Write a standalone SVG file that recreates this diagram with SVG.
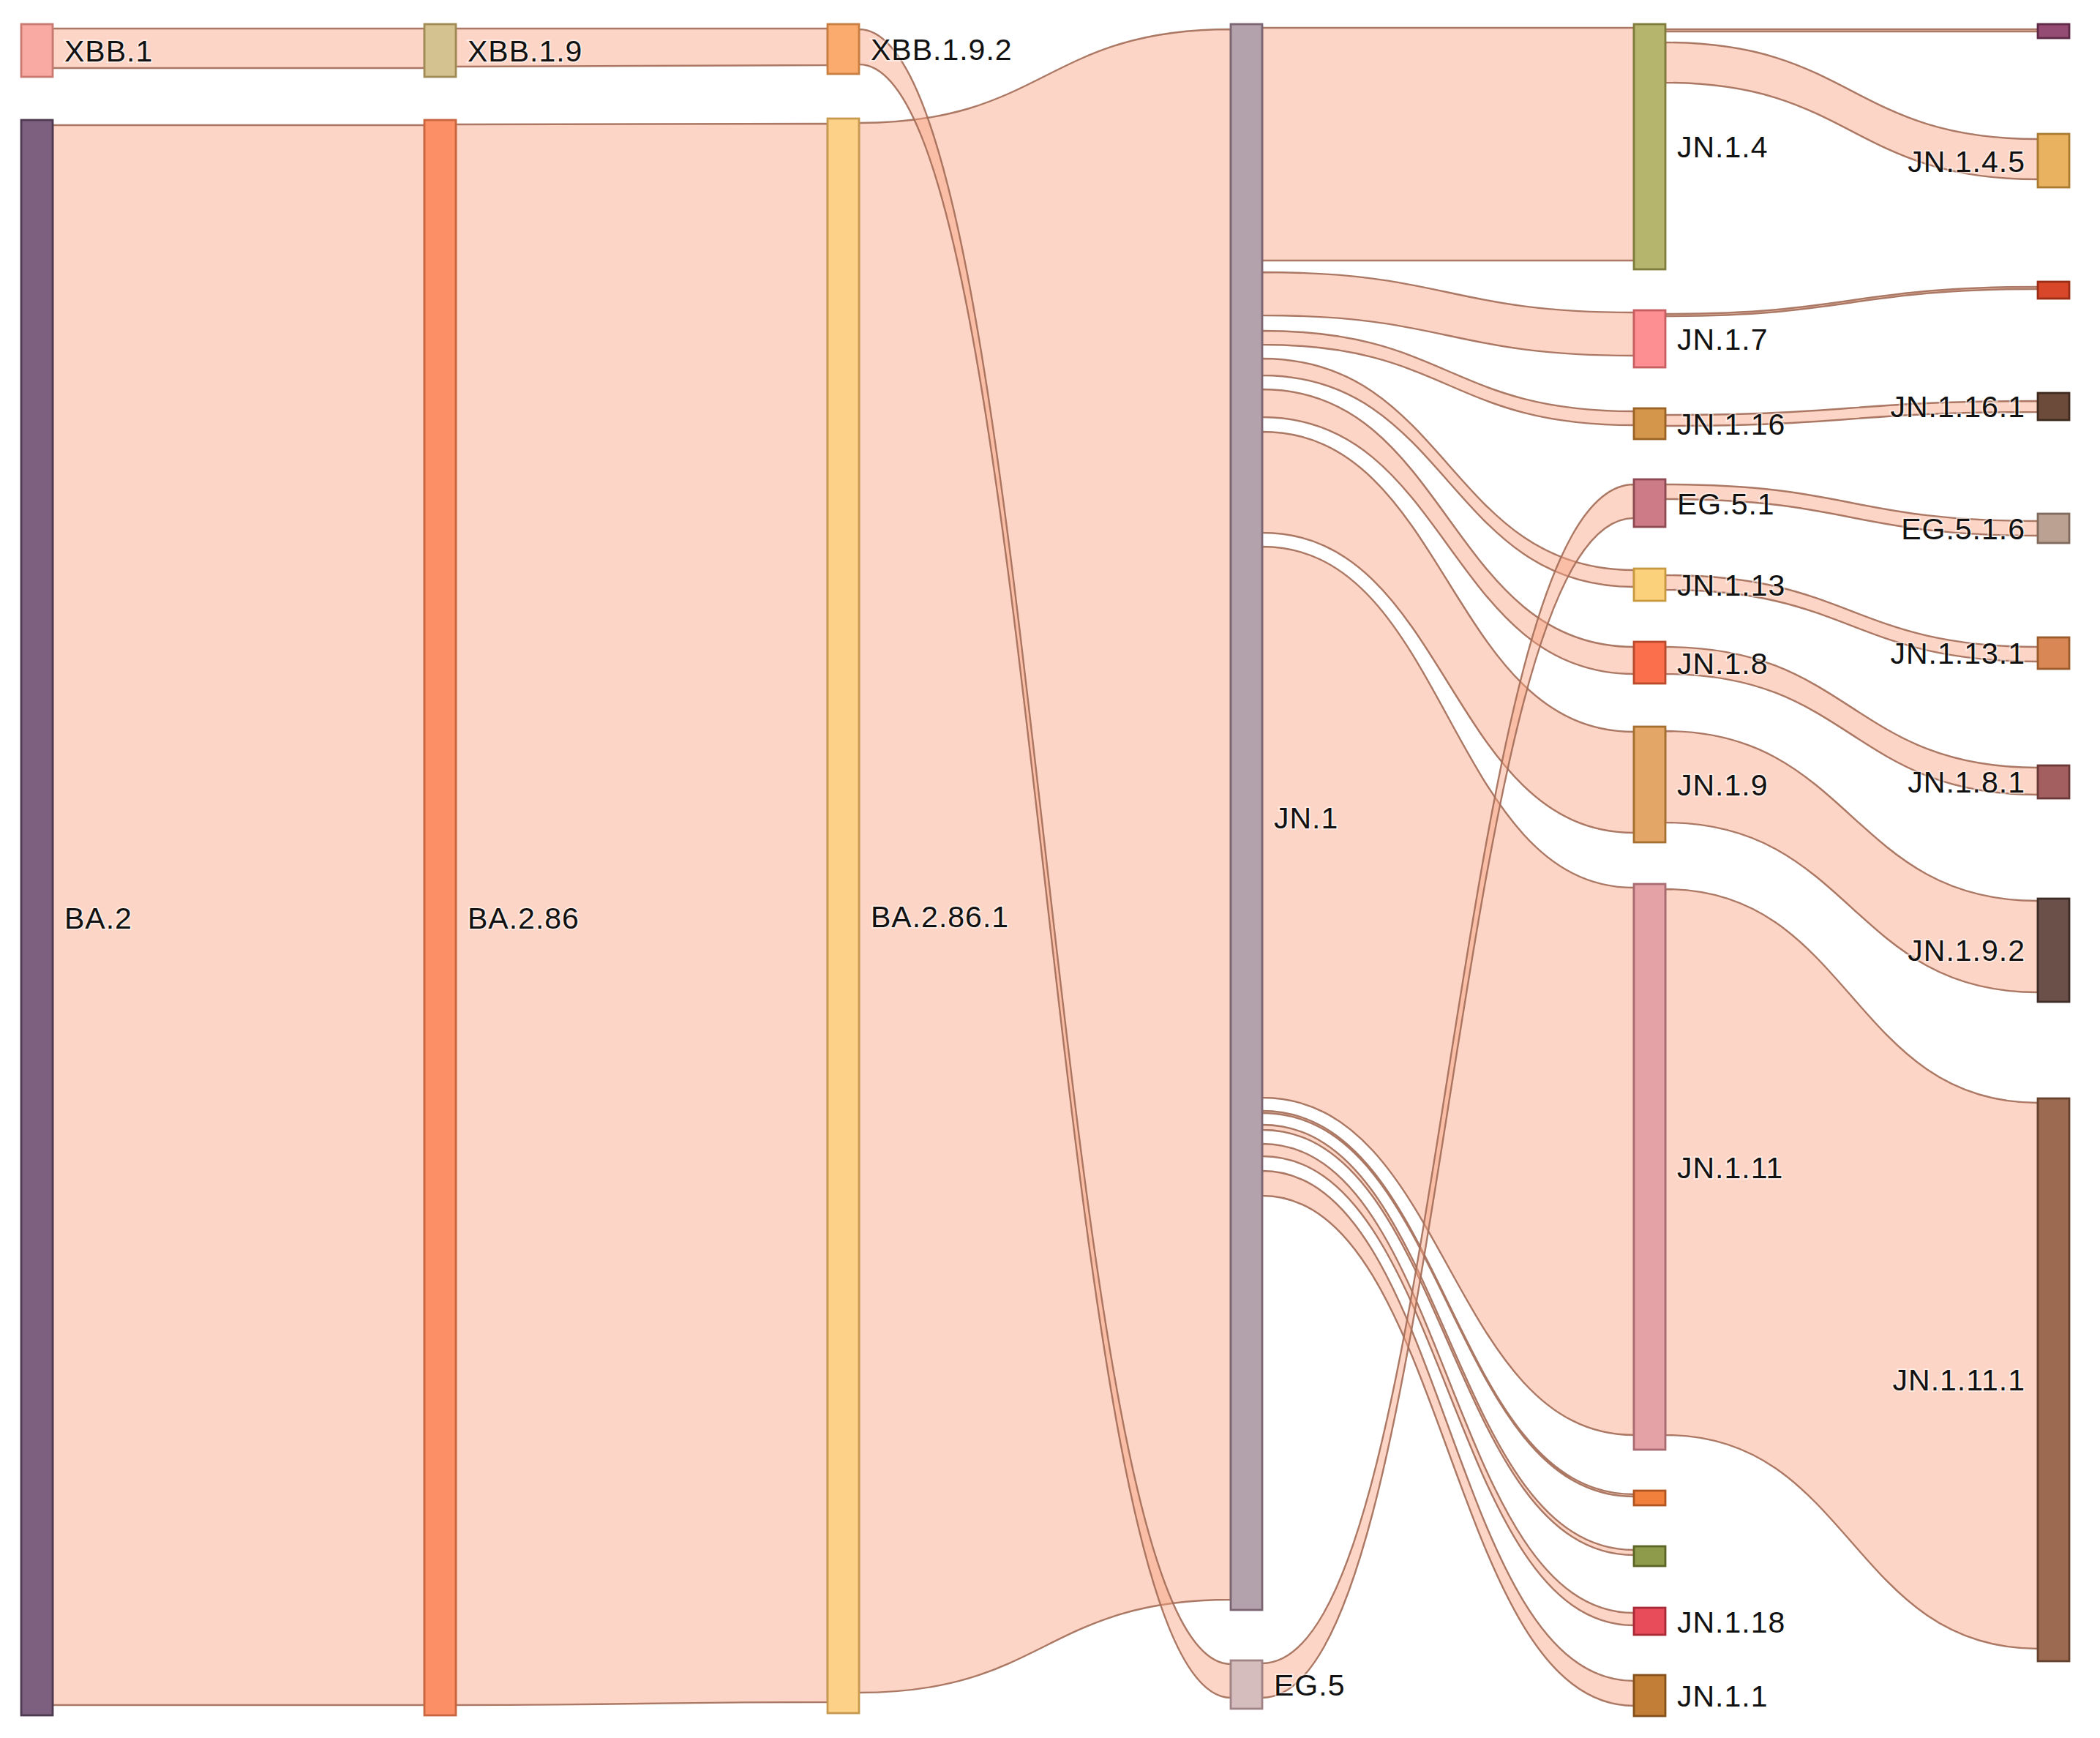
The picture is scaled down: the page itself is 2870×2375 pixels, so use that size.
<svg xmlns="http://www.w3.org/2000/svg" width="2870" height="2375" viewBox="0 0 2870 2375">
<style>
.bg{fill:#ffffff}
.lk{fill:#f9a383;fill-opacity:0.46;stroke:#a26c57;stroke-opacity:0.9;stroke-width:2.4}
.nd{stroke-width:2.8}
.lbl{font-family:"Liberation Sans",Arial,Helvetica,sans-serif;font-size:41px;letter-spacing:1px;fill:#111111;paint-order:stroke;stroke:#ffffff;stroke-width:4;stroke-opacity:0.5}
.r{text-anchor:end}
</style>
<rect class="bg" x="0" y="0" width="2870" height="2375"/>
<g id="links">
<path class="lk" d="M72,39 C326,39 326,39 580,39 L580,93 C326,93 326,93 72,93 Z"/>
<path class="lk" d="M623,39 C877,39 877,39 1131,39 L1131,89 C877,89 877,91 623,91 Z"/>
<path class="lk" d="M72,171 C326,171 326,171 580,171 L580,2330 C326,2330 326,2330 72,2330 Z"/>
<path class="lk" d="M623,170 C877,170 877,169 1131,169 L1131,2326 C877,2326 877,2330 623,2330 Z"/>
<path class="lk" d="M1174,168 C1428,168 1428,40 1682,40 L1682,2186 C1428,2186 1428,2313 1174,2313 Z"/>
<path class="lk" d="M1174,40 C1428,40 1428,2274 1682,2274 L1682,2320 C1428,2320 1428,88 1174,88 Z"/>
<path class="lk" d="M1725,38 C1979,38 1979,38 2233,38 L2233,356 C1979,356 1979,356 1725,356 Z"/>
<path class="lk" d="M1725,372 C1979,372 1979,427 2233,427 L2233,486 C1979,486 1979,431 1725,431 Z"/>
<path class="lk" d="M1725,452 C1979,452 1979,562 2233,562 L2233,581 C1979,581 1979,471 1725,471 Z"/>
<path class="lk" d="M1725,490 C1979,490 1979,779 2233,779 L2233,802 C1979,802 1979,513 1725,513 Z"/>
<path class="lk" d="M1725,532 C1979,532 1979,884 2233,884 L2233,921 C1979,921 1979,570 1725,570 Z"/>
<path class="lk" d="M1725,590 C1979,590 1979,1000 2233,1000 L2233,1138 C1979,1138 1979,728 1725,728 Z"/>
<path class="lk" d="M1725,747 C1979,747 1979,1213 2233,1213 L2233,1961 C1979,1961 1979,1500 1725,1500 Z"/>
<path class="lk" d="M1725,1518 C1979,1518 1979,2042 2233,2042 L2233,2045 C1979,2045 1979,1521 1725,1521 Z"/>
<path class="lk" d="M1725,1537 C1979,1537 1979,2118 2233,2118 L2233,2125 C1979,2125 1979,1544 1725,1544 Z"/>
<path class="lk" d="M1725,1563 C1979,1563 1979,2204 2233,2204 L2233,2221 C1979,2221 1979,1580 1725,1580 Z"/>
<path class="lk" d="M1725,1600 C1979,1600 1979,2297 2233,2297 L2233,2331 C1979,2331 1979,1634 1725,1634 Z"/>
<path class="lk" d="M1725,2273 C1979,2273 1979,662 2233,662 L2233,708 C1979,708 1979,2320 1725,2320 Z"/>
<path class="lk" d="M2276,40 C2530,40 2530,40 2785,40 L2785,43 C2530,43 2530,43 2276,43 Z"/>
<path class="lk" d="M2276,58 C2530,58 2530,190 2785,190 L2785,245 C2530,245 2530,113 2276,113 Z"/>
<path class="lk" d="M2276,429 C2530,429 2530,392 2785,392 L2785,395 C2530,395 2530,432 2276,432 Z"/>
<path class="lk" d="M2276,567 C2530,567 2530,548 2785,548 L2785,563 C2530,563 2530,582 2276,582 Z"/>
<path class="lk" d="M2276,662 C2530,662 2530,712 2785,712 L2785,732 C2530,732 2530,682 2276,682 Z"/>
<path class="lk" d="M2276,786 C2530,786 2530,884 2785,884 L2785,904 C2530,904 2530,806 2276,806 Z"/>
<path class="lk" d="M2276,884 C2530,884 2530,1049 2785,1049 L2785,1086 C2530,1086 2530,921 2276,921 Z"/>
<path class="lk" d="M2276,999 C2530,999 2530,1231 2785,1231 L2785,1356 C2530,1356 2530,1124 2276,1124 Z"/>
<path class="lk" d="M2276,1215 C2530,1215 2530,1507 2785,1507 L2785,2253 C2530,2253 2530,1961 2276,1961 Z"/>
</g>
<g id="n-xbb1"><rect class="nd" x="29" y="33" width="43" height="72" fill="#f9aaa2" stroke="#c97b72"/><text class="lbl" x="88" y="84">XBB.1</text></g>
<g id="n-ba2"><rect class="nd" x="29" y="164" width="43" height="2180" fill="#7d6080" stroke="#4d3a50"/><text class="lbl" x="88" y="1269">BA.2</text></g>
<g id="n-xbb19"><rect class="nd" x="580" y="33" width="43" height="72" fill="#d4c290" stroke="#a08a55"/><text class="lbl" x="639" y="84">XBB.1.9</text></g>
<g id="n-ba286"><rect class="nd" x="580" y="164" width="43" height="2180" fill="#fd8f66" stroke="#c9653f"/><text class="lbl" x="639" y="1269">BA.2.86</text></g>
<g id="n-xbb192"><rect class="nd" x="1131" y="33" width="43" height="68" fill="#fbab6e" stroke="#c77e40"/><text class="lbl" x="1190" y="82">XBB.1.9.2</text></g>
<g id="n-ba2861"><rect class="nd" x="1131" y="162" width="43" height="2179" fill="#fdd288" stroke="#c79a4f"/><text class="lbl" x="1190" y="1267">BA.2.86.1</text></g>
<g id="n-jn1"><rect class="nd" x="1682" y="33" width="43" height="2167" fill="#b3a1ac" stroke="#7b6572"/><text class="lbl" x="1741" y="1132">JN.1</text></g>
<g id="n-eg5"><rect class="nd" x="1682" y="2269" width="43" height="66" fill="#d5bcbd" stroke="#a08485"/><text class="lbl" x="1741" y="2317">EG.5</text></g>
<g id="n-jn14"><rect class="nd" x="2233" y="33" width="43" height="335" fill="#b5b56d" stroke="#807c3c"/><text class="lbl" x="2292" y="215">JN.1.4</text></g>
<g id="n-jn17"><rect class="nd" x="2233" y="424" width="43" height="78" fill="#fd8e92" stroke="#c75e62"/><text class="lbl" x="2292" y="478">JN.1.7</text></g>
<g id="n-jn116"><rect class="nd" x="2233" y="558" width="43" height="42" fill="#d4964b" stroke="#9a6225"/><text class="lbl" x="2292" y="594">JN.1.16</text></g>
<g id="n-eg51"><rect class="nd" x="2233" y="655" width="43" height="65" fill="#cd7b87" stroke="#8e4a53"/><text class="lbl" x="2292" y="703">EG.5.1</text></g>
<g id="n-jn113"><rect class="nd" x="2233" y="777" width="43" height="44" fill="#fcd17c" stroke="#c79a3f"/><text class="lbl" x="2292" y="814">JN.1.13</text></g>
<g id="n-jn18"><rect class="nd" x="2233" y="877" width="43" height="57" fill="#fb6f4d" stroke="#b94a2c"/><text class="lbl" x="2292" y="921">JN.1.8</text></g>
<g id="n-jn19"><rect class="nd" x="2233" y="993" width="43" height="158" fill="#e3a667" stroke="#a5702f"/><text class="lbl" x="2292" y="1087">JN.1.9</text></g>
<g id="n-jn111"><rect class="nd" x="2233" y="1208" width="43" height="773" fill="#e4a1a6" stroke="#a86b71"/><text class="lbl" x="2292" y="1610">JN.1.11</text></g>
<g id="n-c4orange"><rect class="nd" x="2233" y="2037" width="43" height="20" fill="#f0803c" stroke="#b05520"/></g>
<g id="n-c4olive"><rect class="nd" x="2233" y="2113" width="43" height="27" fill="#8e9b4b" stroke="#5c6526"/></g>
<g id="n-jn118"><rect class="nd" x="2233" y="2197" width="43" height="37" fill="#e84c5a" stroke="#a82a36"/><text class="lbl" x="2292" y="2231">JN.1.18</text></g>
<g id="n-jn11"><rect class="nd" x="2233" y="2289" width="43" height="56" fill="#c27d37" stroke="#85501a"/><text class="lbl" x="2292" y="2332">JN.1.1</text></g>
<g id="n-c5purple"><rect class="nd" x="2785" y="33" width="43" height="19" fill="#944c74" stroke="#5e2a48"/></g>
<g id="n-jn145"><rect class="nd" x="2785" y="183" width="43" height="73" fill="#e9b261" stroke="#aa7a30"/><text class="lbl r" x="2768" y="235">JN.1.4.5</text></g>
<g id="n-c5red"><rect class="nd" x="2785" y="385" width="43" height="23" fill="#d9472b" stroke="#992d15"/></g>
<g id="n-jn1161"><rect class="nd" x="2785" y="537" width="43" height="37" fill="#6d4b3b" stroke="#3f2a1f"/><text class="lbl r" x="2768" y="570">JN.1.16.1</text></g>
<g id="n-eg516"><rect class="nd" x="2785" y="702" width="43" height="40" fill="#baa191" stroke="#7f6a5c"/><text class="lbl r" x="2768" y="737">EG.5.1.6</text></g>
<g id="n-jn1131"><rect class="nd" x="2785" y="871" width="43" height="43" fill="#d98754" stroke="#9b5b2c"/><text class="lbl r" x="2768" y="907">JN.1.13.1</text></g>
<g id="n-jn181"><rect class="nd" x="2785" y="1046" width="43" height="45" fill="#a35f5f" stroke="#6b3838"/><text class="lbl r" x="2768" y="1083">JN.1.8.1</text></g>
<g id="n-jn192"><rect class="nd" x="2785" y="1228" width="43" height="141" fill="#6b5049" stroke="#3d2b26"/><text class="lbl r" x="2768" y="1313">JN.1.9.2</text></g>
<g id="n-jn1111"><rect class="nd" x="2785" y="1501" width="43" height="769" fill="#9c6a51" stroke="#66412e"/><text class="lbl r" x="2768" y="1900">JN.1.11.1</text></g>
</svg>
